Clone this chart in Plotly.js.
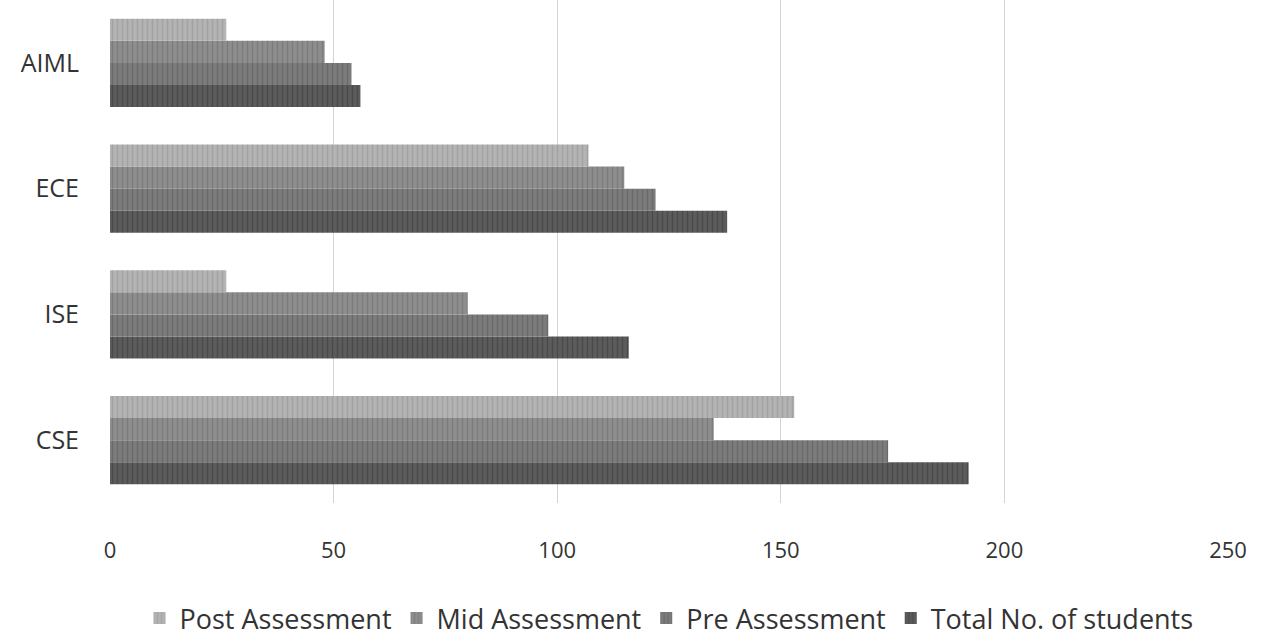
<!DOCTYPE html>
<html>
<head>
<meta charset="utf-8">
<script src="https://cdn.plot.ly/plotly-3.0.1.min.js"></script>
<style>html,body{margin:0;padding:0;background:#fff;}#chart{width:1267px;height:643px;}</style>
</head>
<body>
<div id="chart"></div>
<script>
const categories = ['CSE', 'ISE', 'ECE', 'AIML'];
const seriesNames = ['Total No. of students', 'Pre Assessment', 'Mid Assessment', 'Post Assessment'];
const totalStudents = [192, 116, 138, 56];
const preAssessment = [174, 98, 122, 54];
const midAssessment = [135, 80, 115, 48];
const postAssessment = [153, 26, 107, 26];
const xTicks = [0, 50, 100, 150, 200, 250];

const seriesValues = [totalStudents, preAssessment, midAssessment, postAssessment];
const colors = ['#5c5c5c', '#7c7c7c', '#8e8e8e', '#b4b4b4'];
const fg = ['#4a4a4a', '#6a6a6a', '#7c7c7c', '#a2a2a2'];

const traces = seriesValues.map((vals, i) => ({
  type: 'bar',
  orientation: 'h',
  name: seriesNames[i],
  y: categories,
  x: vals,
  marker: {
    color: colors[i],
    line: {width: 0},
    pattern: {shape: '|', fgcolor: fg[i], bgcolor: colors[i], size: 5, solidity: 0.3}
  },
  hoverinfo: 'x+name'
}));

const layout = {
  width: 1267, height: 643,
  margin: {l: 110, r: 39, t: 0, b: 138},
  paper_bgcolor: '#ffffff',
  plot_bgcolor: '#ffffff',
  barmode: 'group',
  bargap: 0.3,
  bargroupgap: 0,
  font: {family: 'Open Sans, Liberation Sans, sans-serif', color: '#333'},
  xaxis: {
    range: [0, 250],
    tickvals: xTicks,
    ticktext: xTicks.map(String),
    showgrid: true,
    gridcolor: '#d4d4d4',
    gridwidth: 1,
    zeroline: false,
    showline: false,
    ticks: '',
    ticklabelstandoff: 32,
    tickfont: {size: 22, color: '#333'}
  },
  yaxis: {
    type: 'category',
    categoryorder: 'array',
    categoryarray: categories,
    showgrid: false,
    zeroline: false,
    showline: false,
    ticks: '',
    ticklabelstandoff: 30,
    tickfont: {size: 25, color: '#333'}
  },
  showlegend: true,
  legend: {
    orientation: 'h',
    traceorder: 'reversed',
    x: 0.5, xanchor: 'center',
    y: -0.23, yanchor: 'middle',
    font: {size: 27, color: '#333'},
    itemwidth: 30,
    itemsizing: 'constant'
  }
};

Plotly.newPlot('chart', traces, layout, {displayModeBar: false, staticPlot: true});
</script>
</body>
</html>
